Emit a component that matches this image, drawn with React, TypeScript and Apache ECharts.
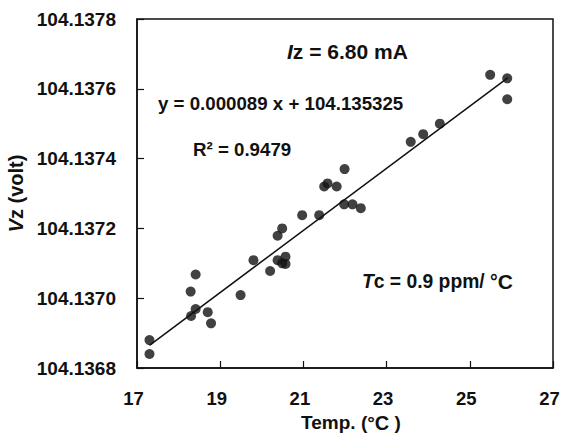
import React, { useEffect, useRef } from "react";
import * as echarts from "echarts";

const temps = [
  17.3, 17.3, 18.29, 18.41, 18.3, 18.41, 18.7, 18.78, 19.49, 19.8, 20.2, 20.38,
  20.49, 20.38, 20.49, 20.57, 20.57, 20.97, 21.38, 21.5, 21.58, 21.8, 21.99,
  21.98, 22.18, 22.38, 23.58, 23.88, 24.28, 25.49, 25.9, 25.9,
];
const volts = [
  104.13688, 104.13684, 104.137019, 104.137068, 104.136949, 104.136969,
  104.13696, 104.136928, 104.137009, 104.137109, 104.137078, 104.137179,
  104.1372, 104.137109, 104.1371, 104.137119, 104.137098, 104.137238,
  104.137238, 104.13732, 104.137329, 104.13732, 104.13737, 104.137269,
  104.137269, 104.137258, 104.137448, 104.13747, 104.1375, 104.13764,
  104.13763, 104.13757,
];
const trendX = [17.3, 25.92];
const trendY = [104.136865, 104.137632];
const xTicks = { min: 17, max: 27, interval: 2 };
const yTicks = { min: 104.1368, max: 104.1378, interval: 0.0002 };

const FONT = "Liberation Sans, Arial, sans-serif";

export default function App() {
  const ref = useRef<HTMLDivElement>(null);
  useEffect(() => {
    if (!ref.current) return;
    const chart = echarts.init(ref.current, null, { renderer: "svg" });
    const base = { fontFamily: FONT, fontWeight: "bold" as const, color: "#111" };
    chart.setOption({
      animation: false,
      backgroundColor: "#fff",
      grid: {
        left: 137,
        right: 9,
        top: 19,
        bottom: 66,
        outerBoundsMode: "none",
        containLabel: false,
        show: true,
        borderColor: "#111",
        borderWidth: 1.5,
      },
      title: [
        {
          text: "{i|I}{n|z = 6.80 mA}",
          left: 287,
          top: 41,
          padding: 0,
          textStyle: {
            rich: {
              i: { ...base, fontSize: 21, fontStyle: "italic" },
              n: { ...base, fontSize: 21 },
            },
          },
        },
        {
          text: "y = 0.000089 x + 104.135325",
          left: 158,
          top: 94,
          padding: 0,
          textStyle: { ...base, fontSize: 18.7 },
        },
        {
          text: "R² = 0.9479",
          left: 193,
          top: 140,
          padding: 0,
          textStyle: { ...base, fontSize: 18.7 },
        },
        {
          text: "{i|T}{n|c = 0.9 ppm/ °}{c|C}",
          left: 362,
          top: 271,
          padding: 0,
          textStyle: {
            rich: {
              i: { ...base, fontSize: 19.3, fontStyle: "italic" },
              n: { ...base, fontSize: 19.3 },
              c: { ...base, fontSize: 21 },
            },
          },
        },
      ],
      xAxis: {
        type: "value",
        ...xTicks,
        name: "{n|Temp. (°}{c|C}{n| )}",
        nameLocation: "middle",
        nameGap: 42,
        nameTextStyle: {
          padding: [0, 0, 0, 12],
          rich: {
            n: { ...base, fontSize: 19, lineHeight: 20 },
            c: { ...base, fontSize: 20, lineHeight: 20 },
          },
        },
        axisLine: { show: true, lineStyle: { color: "#111", width: 1.5 } },
        axisTick: { show: true, inside: true, length: 7, lineStyle: { color: "#111", width: 1.2 } },
        axisLabel: { ...base, fontSize: 18.5, margin: 21, padding: [0, 7, 0, 0] },
        splitLine: { show: false },
      },
      yAxis: {
        type: "value",
        ...yTicks,
        name: "{i|V}{n|z (volt)}",
        nameLocation: "middle",
        nameRotate: 90,
        nameGap: 108,
        nameTextStyle: {
          rich: {
            i: { ...base, fontSize: 20, fontStyle: "italic" },
            n: { ...base, fontSize: 20 },
          },
        },
        axisLine: { show: true, lineStyle: { color: "#111", width: 1.5 } },
        axisTick: { show: true, inside: true, length: 7, lineStyle: { color: "#111", width: 1.2 } },
        axisLabel: {
          ...base,
          fontSize: 19,
          margin: 21,
          formatter: (v: number) => v.toFixed(4),
        },
        splitLine: { show: false },
      },
      series: [
        {
          type: "scatter",
          data: temps.map((t, i) => [t, volts[i]]),
          symbol: "circle",
          symbolSize: 10,
          itemStyle: { color: "#111" },
        },
        {
          type: "line",
          data: trendX.map((t, i) => [t, trendY[i]]),
          symbol: "none",
          lineStyle: { color: "#111", width: 1.5 },
        },
      ],
    });
    return () => chart.dispose();
  }, []);
  return (
    <div
      ref={ref}
      style={{ position: "fixed", left: 0, top: 0, width: 562, height: 434 }}
    />
  );
}
